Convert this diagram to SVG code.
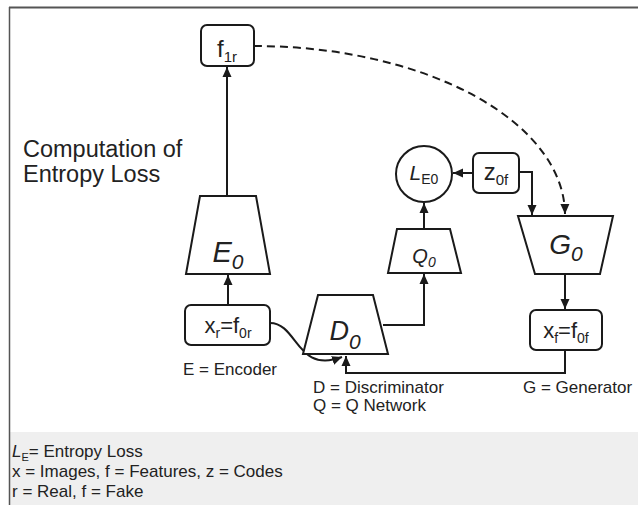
<svg xmlns="http://www.w3.org/2000/svg" width="638" height="505" viewBox="0 0 638 505">
<defs>
<marker id="ah" viewBox="0 0 10 10" refX="10" refY="5" markerWidth="10" markerHeight="10" markerUnits="userSpaceOnUse" orient="auto">
<path d="M0,0.5 L10,5 L0,9.5 Z" fill="#1a1a1a"/>
</marker>
<style>
.box{fill:#fff;stroke:#1a1a1a;stroke-width:2}
.ln{fill:none;stroke:#1a1a1a;stroke-width:2}
.t{font-family:"Liberation Sans",Arial,sans-serif;fill:#222}
.it{font-style:italic}
</style>
</defs>
<rect x="0" y="0" width="638" height="505" fill="#fff"/>
<rect x="10" y="432" width="628" height="73" fill="#efefef"/>
<line x1="9" y1="7.5" x2="638" y2="7.5" stroke="#555" stroke-width="2"/>
<line x1="9.5" y1="7" x2="9.5" y2="505" stroke="#555" stroke-width="1.5"/>

<g id="connectors">
<path class="ln" d="M228,305 V275" marker-end="url(#ah)"/>
<path class="ln" d="M227,196 V67" marker-end="url(#ah)"/>
<path class="ln" d="M270,323 C298,323 296,374 342,357" marker-end="url(#ah)"/>
<path class="ln" d="M565,350 V373 H346 V356" marker-end="url(#ah)"/>
<path class="ln" d="M383,325 H424 V274" marker-end="url(#ah)"/>
<path class="ln" d="M424,229 V203" marker-end="url(#ah)"/>
<path class="ln" d="M473,173 H453" marker-end="url(#ah)"/>
<path class="ln" d="M519,172 H532 V215" marker-end="url(#ah)"/>
<path class="ln" d="M565,274 V309" marker-end="url(#ah)"/>
<path class="ln" d="M254,46 A311,169 0 0 1 565,214" stroke-dasharray="8,5" marker-end="url(#ah)"/>
</g>

<g id="f1r">
<rect class="box" x="201" y="25" width="53" height="41" rx="6"/>
<text class="t" x="227" y="57" text-anchor="middle" font-size="24">f<tspan font-size="15" dy="5">1r</tspan></text>
</g>

<g id="E0">
<path class="box" d="M200,196 H256 L270,274 H186 Z"/>
<text class="t it" x="228" y="262" text-anchor="middle" font-size="29">E<tspan font-size="21" dy="7">0</tspan></text>
</g>

<g id="xr">
<rect class="box" x="185" y="305" width="85" height="40" rx="6"/>
<text class="t" x="228" y="333" text-anchor="middle" font-size="22">x<tspan font-size="14" dy="5">r</tspan><tspan dy="-5">=f</tspan><tspan font-size="14" dy="5">0r</tspan></text>
</g>

<g id="D0">
<path class="box" d="M318,295 H373 L388,354 H303 Z"/>
<text class="t it" x="345" y="340" text-anchor="middle" font-size="27">D<tspan font-size="21" dy="9">0</tspan></text>
</g>

<g id="Q0">
<path class="box" d="M397,229 H450 L461,273 H388 Z"/>
<text class="t it" x="424" y="263" text-anchor="middle" font-size="20">Q<tspan font-size="14" dy="4">0</tspan></text>
</g>

<g id="LE0">
<circle class="box" cx="424" cy="174" r="28"/>
<text class="t" x="424" y="180" text-anchor="middle" font-size="21"><tspan class="it">L</tspan><tspan font-size="14" dy="4">E0</tspan></text>
</g>

<g id="z0f">
<rect class="box" x="473" y="153" width="46" height="40" rx="6"/>
<text class="t" x="496" y="180" text-anchor="middle" font-size="24">z<tspan font-size="15" dy="5">0f</tspan></text>
</g>

<g id="G0">
<path class="box" d="M518,216 H613 L600,274 H535 Z"/>
<text class="t it" x="566" y="254" text-anchor="middle" font-size="28">G<tspan font-size="21" dy="7">0</tspan></text>
</g>

<g id="xf">
<rect class="box" x="530" y="310" width="72" height="40" rx="6"/>
<text class="t" x="566" y="338" text-anchor="middle" font-size="22">x<tspan font-size="14" dy="5">f</tspan><tspan dy="-5">=f</tspan><tspan font-size="14" dy="5">0f</tspan></text>
</g>

<g id="labels">
<text class="t" x="23" y="157" font-size="23.5">Computation of</text>
<text class="t" x="23" y="182" font-size="23.5">Entropy Loss</text>
<text class="t" x="183" y="375" font-size="17">E = Encoder</text>
<text class="t" x="313" y="393" font-size="17">D = Discriminator</text>
<text class="t" x="313" y="411" font-size="17">Q = Q Network</text>
<text class="t" x="523" y="393" font-size="17">G = Generator</text>
<text class="t" x="12" y="457" font-size="17"><tspan class="it">L</tspan><tspan font-size="11" dy="4">E</tspan><tspan dy="-4">= Entropy Loss</tspan></text>
<text class="t" x="12" y="477" font-size="17">x = Images, f = Features, z = Codes</text>
<text class="t" x="12" y="497" font-size="17">r = Real, f = Fake</text>
</g>
</svg>
